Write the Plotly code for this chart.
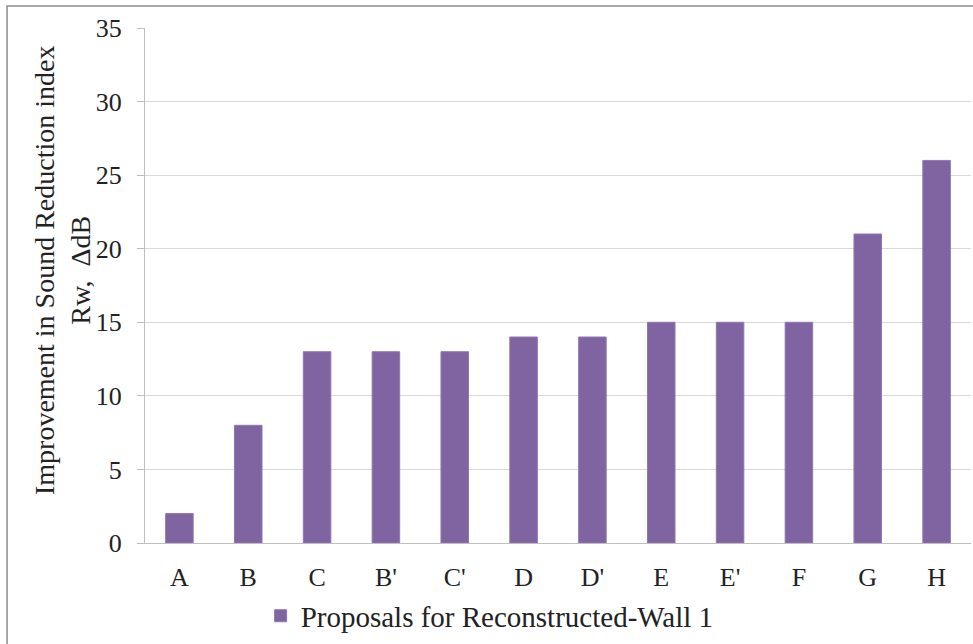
import plotly.graph_objects as go

# dados do gráfico
categorias = ["A", "B", "C", "B'", "C'", "D", "D'", "E", "E'", "F", "G", "H"]
melhoria_db = [2, 8, 13, 13, 13, 14, 14, 15, 15, 15, 21, 26]
nome_serie = "Proposals for Reconstructed-Wall 1"
titulo_y = "Improvement in Sound Reduction index<br>Rw,  ΔdB"
y_ticks = [0, 5, 10, 15, 20, 25, 30, 35]

fonte = "Liberation Serif, Times New Roman, serif"

fig = go.Figure()
fig.add_trace(
    go.Bar(
        x=categorias,
        y=melhoria_db,
        name=nome_serie,
        marker=dict(color="#8064A2", line=dict(color="#8F78B0", width=1)),
        showlegend=True,
    )
)

fig.update_layout(
    width=973,
    height=644,
    paper_bgcolor="white",
    plot_bgcolor="white",
    margin=dict(l=145, r=2, t=28, b=101),
    font=dict(family=fonte, size=26, color="#222222"),
    bargap=0.6,
    legend=dict(
        orientation="h",
        x=0.14,
        xanchor="left",
        y=-0.092,
        yanchor="top",
        font=dict(size=29),
        itemwidth=30,
        bgcolor="rgba(0,0,0,0)",
    ),
    shapes=[
        # moldura do gráfico
        dict(
            type="rect",
            xref="paper",
            yref="paper",
            x0=-0.167,
            x1=1.02,
            y0=-0.3,
            y1=1.0427,
            line=dict(color="#8c8c8c", width=1.5),
            fillcolor="rgba(0,0,0,0)",
            layer="below",
        )
    ],
    annotations=[
        # título do eixo y como anotação para posicionar melhor
        dict(
            text=titulo_y,
            textangle=-90,
            xref="paper",
            yref="paper",
            x=-0.1005,
            y=0.53,
            xanchor="center",
            yanchor="middle",
            showarrow=False,
            font=dict(size=28),
        )
    ],
)

fig.update_yaxes(
    range=[0, 35],
    tickvals=y_ticks,
    automargin=False,
    showgrid=True,
    gridcolor="#D9D9D9",
    gridwidth=1,
    showline=True,
    linecolor="#BFBFBF",
    ticks="outside",
    ticklen=7,
    tickcolor="#BFBFBF",
    ticklabelstandoff=10,
    zeroline=False,
)

fig.update_xaxes(
    automargin=False,
    showline=True,
    linecolor="#BFBFBF",
    ticks="",
    ticklabelstandoff=11,
)

# tirar a margem padrão da página
fig.write_html(
    "out.html",
    config={"displayModeBar": False},
    post_script="document.body.style.margin='0';",
)
